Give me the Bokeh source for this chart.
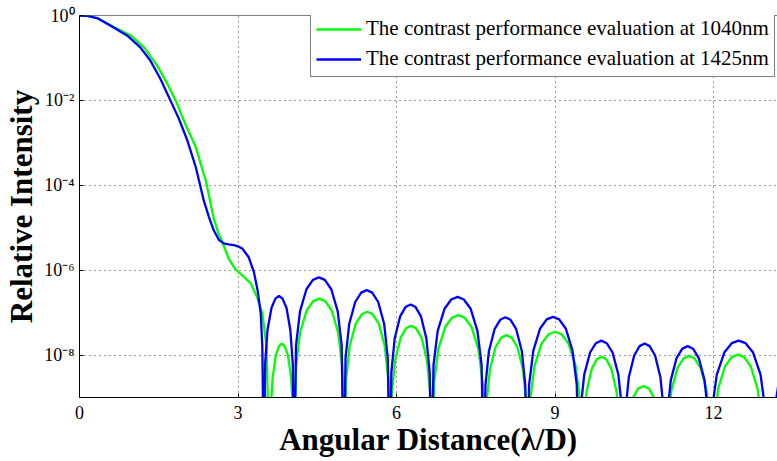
from bokeh.plotting import figure
from bokeh.models import (Range1d, FixedTicker, CustomJSTickFormatter,
                          Legend, LegendItem, Span)
from bokeh.embed import file_html
from bokeh.resources import INLINE

# ---------------- data ----------------
x_ticks = [0, 3, 6, 9, 12]
y_ticks = [1e-8, 1e-6, 1e-4, 1e-2, 1]

label_1040 = "The contrast performance evaluation at 1040nm"
label_1425 = "The contrast performance evaluation at 1425nm"

# angular distance (lambda/D) and log10 relative intensity, 1425 nm (blue)
blue_x = [0.0, 0.15, 0.35, 0.59, 0.90, 1.15, 1.34, 1.53, 1.72, 1.88, 2.04, 2.20, 2.26, 2.35,
          2.45, 2.54, 2.64, 2.73, 2.82, 2.92, 3.00, 3.08, 3.20, 3.30, 3.37, 3.43, 3.46, 3.49,
          3.513, 3.558, 3.633, 3.707, 3.775, 3.843, 3.918, 3.990, 4.037, 4.06,
          4.098, 4.173, 4.295, 4.417, 4.53, 4.643, 4.765, 4.887, 4.962, 5.0,
          5.035, 5.104, 5.218, 5.331, 5.435, 5.539, 5.653, 5.766, 5.835, 5.87,
          5.902, 5.965, 6.068, 6.17, 6.265, 6.36, 6.463, 6.565, 6.628, 6.66,
          6.70, 6.779, 6.908, 7.036, 7.155, 7.274, 7.403, 7.531, 7.61, 7.65,
          7.683, 7.748, 7.855, 7.962, 8.06, 8.158, 8.265, 8.372, 8.437, 8.47,
          8.509, 8.588, 8.715, 8.842, 8.96, 9.078, 9.205, 9.332, 9.411, 9.45,
          9.484, 9.552, 9.663, 9.773, 9.875, 9.977, 10.088, 10.198, 10.266, 10.30,
          10.332, 10.395, 10.498, 10.60, 10.695, 10.79, 10.893, 10.995, 11.058, 11.09,
          11.124, 11.191, 11.30, 11.409, 11.51, 11.611, 11.72, 11.829, 11.896, 11.93,
          11.974, 12.061, 12.203, 12.344, 12.475, 12.606, 12.748, 12.889, 12.976, 13.02,
          13.15, 13.19, 13.25]
blue_log = [0.0, -0.01, -0.07, -0.24, -0.47, -0.75, -1.06, -1.49, -2.00, -2.43, -2.94, -3.57, -3.88, -4.35,
            -4.75, -5.06, -5.29, -5.37, -5.39, -5.41, -5.44, -5.49, -5.69, -6.04, -6.47, -7.02, -7.80, -11.0,
            -8.21, -7.41, -6.89, -6.67, -6.61, -6.67, -6.89, -7.41, -8.21, -11.0,
            -7.77, -6.97, -6.45, -6.23, -6.17, -6.23, -6.45, -6.97, -7.77, -11.0,
            -8.07, -7.27, -6.75, -6.53, -6.47, -6.53, -6.75, -7.27, -8.07, -11.0,
            -8.41, -7.61, -7.09, -6.87, -6.81, -6.87, -7.09, -7.61, -8.41, -11.0,
            -8.23, -7.43, -6.91, -6.69, -6.63, -6.69, -6.91, -7.43, -8.23, -11.0,
            -8.71, -7.91, -7.39, -7.17, -7.11, -7.17, -7.39, -7.91, -8.71, -11.0,
            -8.70, -7.90, -7.38, -7.16, -7.10, -7.16, -7.38, -7.90, -8.70, -11.0,
            -9.26, -8.46, -7.94, -7.72, -7.66, -7.72, -7.94, -8.46, -9.26, -11.0,
            -9.33, -8.53, -8.01, -7.79, -7.73, -7.79, -8.01, -8.53, -9.33, -11.0,
            -9.39, -8.59, -8.07, -7.85, -7.79, -7.85, -8.07, -8.59, -9.39, -11.0,
            -9.26, -8.46, -7.94, -7.72, -7.66, -7.72, -7.94, -8.46, -9.26, -11.0,
            -10.0, -9.0, -8.5]

# 1040 nm (green)
green_x = [0.0, 0.15, 0.35, 0.65, 0.97, 1.22, 1.47, 1.66, 1.82, 2.00, 2.20, 2.35, 2.39, 2.46,
           2.54, 2.62, 2.70, 2.82, 2.95, 3.08, 3.24, 3.36, 3.46, 3.54, 3.60,
           3.618, 3.655, 3.715, 3.775, 3.83, 3.885, 3.945, 4.005, 4.042, 4.06,
           4.098, 4.174, 4.298, 4.421, 4.535, 4.649, 4.773, 4.896, 4.972, 5.01,
           5.045, 5.114, 5.228, 5.341, 5.445, 5.549, 5.663, 5.776, 5.845, 5.88,
           5.912, 5.975, 6.078, 6.18, 6.275, 6.37, 6.473, 6.575, 6.638, 6.67,
           6.71, 6.79, 6.92, 7.05, 7.17, 7.29, 7.42, 7.55, 7.63, 7.67,
           7.703, 7.768, 7.875, 7.982, 8.08, 8.178, 8.285, 8.392, 8.457, 8.49,
           8.531, 8.612, 8.745, 8.878, 9.0, 9.122, 9.255, 9.388, 9.469, 9.51,
           9.54, 9.599, 9.695, 9.791, 9.88, 9.969, 10.065, 10.161, 10.22, 10.25,
           10.284, 10.352, 10.463, 10.573, 10.675, 10.777, 10.888, 10.998, 11.066, 11.10,
           11.135, 11.204, 11.318, 11.431, 11.535, 11.639, 11.753, 11.866, 11.935, 11.97,
           12.009, 12.088, 12.215, 12.342, 12.46, 12.578, 12.705, 12.832, 12.911, 12.95,
           13.1, 13.25]
green_log = [0.0, -0.01, -0.07, -0.27, -0.47, -0.75, -1.18, -1.60, -2.00, -2.55, -3.10, -3.73, -3.88, -4.30,
             -4.78, -5.10, -5.33, -5.72, -5.98, -6.12, -6.31, -6.63, -7.02, -7.80, -11.0,
             -9.33, -8.53, -8.01, -7.79, -7.73, -7.79, -8.01, -8.53, -9.33, -11.0,
             -8.27, -7.47, -6.95, -6.73, -6.67, -6.73, -6.95, -7.47, -8.27, -11.0,
             -8.58, -7.78, -7.26, -7.04, -6.98, -7.04, -7.26, -7.78, -8.58, -11.0,
             -8.91, -8.11, -7.59, -7.37, -7.31, -7.37, -7.59, -8.11, -8.91, -11.0,
             -8.66, -7.86, -7.34, -7.12, -7.06, -7.12, -7.34, -7.86, -8.66, -11.0,
             -9.13, -8.33, -7.81, -7.59, -7.53, -7.59, -7.81, -8.33, -9.13, -11.0,
             -9.05, -8.25, -7.73, -7.51, -7.45, -7.51, -7.73, -8.25, -9.05, -11.0,
             -9.64, -8.84, -8.32, -8.10, -8.04, -8.10, -8.32, -8.84, -9.64, -11.0,
             -10.33, -9.53, -9.03, -8.79, -8.73, -8.79, -9.03, -9.53, -10.33, -11.0,
             -9.62, -8.82, -8.30, -8.08, -8.02, -8.08, -8.30, -8.82, -9.62, -11.0,
             -9.59, -8.79, -8.27, -8.05, -7.99, -8.05, -8.27, -8.79, -9.59, -11.0,
             -10.5, -9.6]

blue_y = [10.0 ** v for v in blue_log]
green_y = [10.0 ** v for v in green_log]

SERIF = "Liberation Serif"

y_range = Range1d(1e-9, 1)
p = figure(width=777, height=461, x_range=Range1d(0, 13.21), y_range=y_range,
           y_axis_type="log", output_backend="svg", toolbar_location=None,
           min_border_left=79, min_border_right=0, min_border_top=15, min_border_bottom=64)
p.outline_line_color = None
p.background_fill_color = "white"
p.border_fill_color = "white"

g = p.line(green_x, green_y, line_color="#00FF00", line_width=2.3)
b = p.line(blue_x, blue_y, line_color="#0000FF", line_width=2.3)

# top frame edge (the right edge is cut off in the reference)
p.add_layout(Span(location=y_range.end, dimension="width", line_color="black", line_width=1))

# axes
xa = p.xaxis[0]
xa.ticker = FixedTicker(ticks=x_ticks)
ya = p.yaxis[0]
ya.ticker = FixedTicker(ticks=y_ticks)
ya.formatter = CustomJSTickFormatter(code="""
const e = Math.round(Math.log10(tick));
const m = {"-":"\\u207B","0":"\\u2070","1":"\\u00B9","2":"\\u00B2","3":"\\u00B3","4":"\\u2074",
           "5":"\\u2075","6":"\\u2076","7":"\\u2077","8":"\\u2078","9":"\\u2079"};
return "10" + String(e).split("").map(c => m[c]).join("");
""")
for ax in (xa, ya):
    ax.major_tick_in = 4
    ax.major_tick_out = 0
    ax.minor_tick_line_color = None
    ax.axis_line_color = "black"
    ax.major_tick_line_color = "black"
    ax.major_label_text_font = SERIF
    ax.major_label_text_font_size = "18px"
    ax.major_label_text_color = "black"
    ax.axis_label_text_font = SERIF
    ax.axis_label_text_font_size = "31px"
    ax.axis_label_text_font_style = "bold"
    ax.axis_label_text_color = "black"

xa.axis_label = "Angular Distance(λ/D)"
xa.major_label_standoff = 8
xa.axis_label_standoff = 0
ya.axis_label = "Relative Intensity"
ya.major_label_standoff = 5
ya.axis_label_standoff = 2

# grid
p.xgrid.ticker = FixedTicker(ticks=x_ticks)
for gr in (p.xgrid[0], p.ygrid[0]):
    gr.grid_line_color = "#333333"
    gr.grid_line_dash = "1 4"
    gr.grid_line_width = 1

legend = Legend(items=[LegendItem(label=label_1040, renderers=[g]),
                       LegendItem(label=label_1425, renderers=[b])],
                location=(231, 320))
legend.label_text_font = SERIF
legend.label_text_font_size = "21px"
legend.label_text_color = "black"
legend.glyph_width = 45
legend.glyph_height = 20
legend.label_height = 20
legend.spacing = 5
legend.padding = 5
legend.margin = 0
legend.label_standoff = 5
legend.border_line_color = "black"
legend.border_line_width = 1
legend.background_fill_alpha = 1
p.add_layout(legend)

open("out.html", "w").write(file_html(p, INLINE))
